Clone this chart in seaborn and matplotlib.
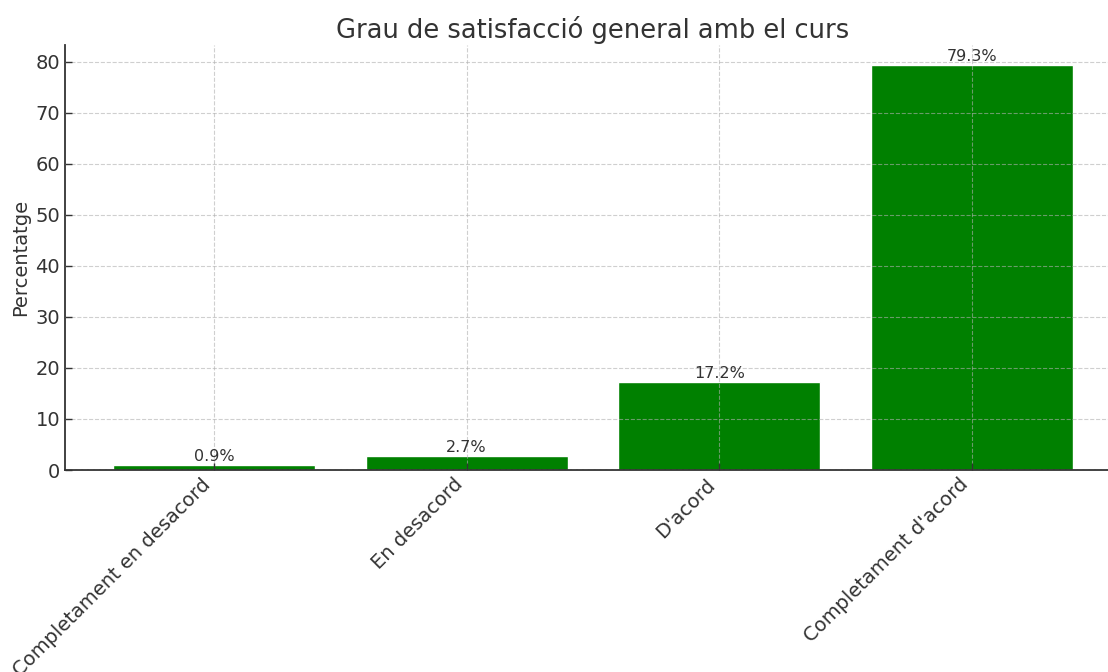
import seaborn as sns
import matplotlib.pyplot as plt
import pandas as pd

sns.set_theme(style="whitegrid")
plt.rcParams['font.family'] = ['DejaVu Sans']

categories = ["Completament en desacord", "En desacord", "D'acord", "Completament d'acord"]
percentages = [0.9, 2.7, 17.2, 79.3]

df = pd.DataFrame({'resposta': categories, 'percentatge': percentages})

fig = plt.figure(figsize=(11.08, 6.72), dpi=100)
ax = fig.add_axes([65 / 1108, 202 / 672, 1056 / 1108, 425 / 672])

sns.barplot(data=df, x='resposta', y='percentatge', color='green', saturation=1,
            width=0.8, ax=ax, zorder=2)

for i, v in enumerate(percentages):
    ax.text(i, v + 0.3, f"{v}%", ha='center', va='bottom', fontsize=11.5, color='#333333', zorder=4)

ax.set_xlim(-0.59, 3.59)
ax.set_ylim(0, 83.3)
ax.set_title("Grau de satisfacció general amb el curs", fontsize=18.5, color='#333333', pad=5)
ax.set_ylabel("Percentatge", fontsize=14, color='#333333')
ax.set_xlabel("")
ax.grid(True, linestyle='--', color='#b0b0b0', alpha=0.6, linewidth=0.8, zorder=3)
ax.set_axisbelow(False)
for s in ['top', 'right']:
    ax.spines[s].set_visible(False)
for s in ['left', 'bottom']:
    ax.spines[s].set_color('#333333')
    ax.spines[s].set_linewidth(1.3)
ax.tick_params(axis='both', direction='in', length=5, width=1, colors='#333333',
               labelsize=14, left=True, bottom=True)
plt.setp(ax.get_xticklabels(), rotation=45, ha='right', fontsize=14)

fig.savefig('out.png', dpi=100)
